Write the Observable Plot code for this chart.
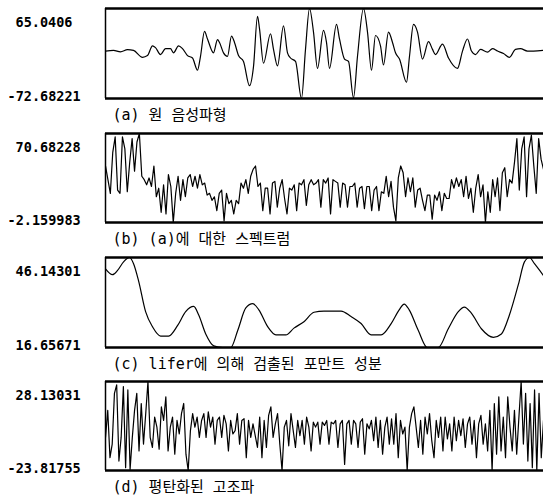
<!DOCTYPE html>
<html><head><meta charset="utf-8">
<script src="https://cdn.jsdelivr.net/npm/d3@7"></script>
<script src="https://cdn.jsdelivr.net/npm/@observablehq/plot@0.6"></script>
<style>
html,body{margin:0;padding:0;background:#fff;color:#000;}
#chart{width:543px;}
#chart svg{display:block;overflow:visible;}
g[aria-label="caption"] text{letter-spacing:1.5px;}
</style></head><body><div id="chart"></div>
<script>
// captions and min/max labels
const captions = ["(a) 원 음성파형", "(b) (a)에 대한 스펙트럼", "(c) lifer에 의해 검출된 포만트 성분", "(d) 평탄화된 고조파"];
const maxLabels = ["65.0406", "70.68228", "46.14301", "28.13031"];
const minLabels = ["-72.68221", "-2.159983", "16.65671", "-23.81755"];

// (a) original speech waveform: sample index / amplitude
const waveN = [0,8,15,22,28,37,42,47,50,55,60,65,68,73,77,82,87,92,95,99,102,108,112,114,118,122,126,129,133,138,144,148,152,154,158,165,168,172,178,182,185,190,196,200,204,208,212,218,221,224,231,234,239,243,248,252,258,262,266,270,275,278,283,287,290,294,301,304,308,312,317,323,327,330,337,343,352,357,362,366,370,375,382,387,392,398,404,410,415,422,428,438];
const waveV = [-0.1,0.9,-1.2,2.0,0.9,-9.6,-7.0,7.8,5.2,-5.4,3.6,3.6,-2.8,7.8,3.6,-7.0,-10.7,-29.3,-8.1,30.1,18.4,-2.8,17.4,13.1,-2.8,-8.1,22.7,13.1,-7.0,-16.0,-53.1,-23.9,52.9,34.3,-18.7,26.4,2.5,-22.9,38.6,-2.8,-10.7,-16.0,-72.68221,2.5,65.0406,29.0,-26.6,31.7,13.1,-26.6,40.7,18.4,-12.3,-16.0,-71.6,-8.1,65.0406,29.0,-29.3,23.7,7.8,-21.3,29.0,13.1,-2.8,-12.3,-47.8,-8.1,40.7,29.0,-12.3,14.2,2.5,-5.4,10.5,-10.7,-26.6,-0.1,18.4,-0.1,-5.4,2.5,-1.7,3.6,-0.1,-3.8,-9.6,2.5,3.6,-0.1,-0.1,0.9];

// (b) spectrum of (a)
const specV = [44.1,32.9,21.7,55.3,67.9,24.4,21.7,67.9,58.1,23.0,46.9,66.5,39.9,63.7,70.68228,35.7,32.9,28.7,34.3,27.3,44.1,18.9,25.9,6.2,28.7,4.8,37.1,27.3,-2.159983,21.7,35.7,16.0,32.9,18.9,34.3,37.1,27.3,35.7,25.9,37.1,28.7,30.1,20.3,21.7,16.0,18.9,7.6,21.7,24.4,-0.8,21.7,13.2,16.0,4.8,16.0,13.2,30.1,25.9,32.9,21.7,35.7,41.3,44.1,27.3,30.1,7.6,25.9,25.9,4.8,30.1,31.5,10.4,25.9,32.9,17.5,4.8,25.9,24.4,28.7,7.6,30.1,28.7,32.9,11.9,28.7,32.9,28.7,30.1,32.9,10.4,32.9,30.1,34.3,4.8,32.9,31.5,30.1,10.4,30.1,28.7,10.4,27.3,27.3,30.1,10.4,25.9,27.3,9.1,27.3,27.3,7.6,24.4,27.3,7.6,23.0,21.7,35.7,18.9,31.5,10.4,-0.8,34.3,44.1,38.5,18.9,34.3,23.0,34.3,10.4,24.4,25.9,16.0,7.6,20.3,20.3,0.6,20.3,16.0,23.0,7.6,21.7,17.5,17.5,32.9,25.9,34.3,27.3,32.9,18.9,35.7,17.5,25.9,6.2,25.9,37.1,18.9,28.7,-2.159983,23.0,6.2,32.9,18.9,34.3,7.6,38.5,42.7,18.9,32.9,30.1,46.9,66.5,24.4,58.1,67.9,18.9,58.1,69.3,44.1,21.7,66.5,49.7,41.3];

// (c) formant component detected by lifter
const formantN = [0,7,12,18,24,28,33,40,47,55,63,72,80,88,93,100,108,117,125,132,140,147,153,162,170,180,188,198,208,218,235,245,255,265,275,285,293,298,303,312,321,332,342,352,358,365,375,387,395,403,412,418,423,428,437];
const formantV = [42.4,40.5,41.9,44.7,46.14301,44.1,38.5,28.4,23.4,20.4,20.4,23.9,28.4,30.1,27.3,21.1,17.2,16.65671,16.65671,22.3,29.6,31.0,29.0,23.4,20.8,20.8,23.0,25.1,28.2,28.6,28.6,26.8,24.5,20.8,20.8,24.5,29.0,30.9,29.0,22.3,16.65671,16.65671,22.8,28.4,29.9,27.9,22.8,20.0,21.1,27.3,37.4,44.7,46.14301,44.1,40.2];

// (d) flattened harmonics
const harmV = [-4.5,11.3,-16.3,-8.4,21.2,26.2,-18.3,-4.5,25.2,-22.2,23.2,-23.2,-4.5,11.3,21.2,-12.4,15.3,-8.4,9.4,28.13031,-4.5,-10.4,7.4,1.5,-11.4,13.3,5.4,19.2,-12.4,1.5,7.4,-14.3,5.4,-2.5,9.4,15.3,-14.3,-23.81755,-0.5,9.4,1.5,7.4,-4.5,5.4,9.4,-4.5,10.4,1.5,7.4,-8.4,5.4,7.4,-4.5,8.4,3.4,-12.4,5.4,-2.5,-0.5,9.4,-8.4,5.4,6.4,-16.3,5.4,-4.5,3.4,-3.5,-10.4,7.4,-16.3,5.4,-10.4,8.4,13.3,-4.5,3.4,9.4,-8.4,-23.81755,1.5,5.4,-9.4,9.4,-0.5,-10.4,5.4,-3.5,5.4,-8.4,7.4,1.5,-12.4,4.4,1.5,4.4,-8.4,4.4,2.5,5.4,-8.4,4.4,3.4,5.4,-10.4,3.4,5.4,-20.3,3.4,5.4,-8.4,5.4,3.4,-10.4,4.4,6.4,-14.3,3.4,0.5,5.4,-6.4,7.4,-10.4,5.4,-14.3,1.5,7.4,-8.4,6.4,-8.4,9.4,-16.3,5.4,-2.5,1.5,-23.81755,1.5,9.4,13.3,1.5,-10.4,5.4,-14.3,7.4,-2.5,9.4,-6.4,-16.3,5.4,-4.5,7.4,-12.4,7.4,-5.4,3.4,-12.4,7.4,-6.4,5.4,-3.5,6.4,-10.4,3.4,7.4,-8.4,5.4,-16.3,3.4,8.4,-8.4,3.4,-12.4,11.3,-23.81755,15.3,-14.3,19.2,-12.4,7.4,-16.3,19.2,1.5,-12.4,11.3,-14.3,7.4,28.13031,-8.4,21.2,-18.3,15.3,-22.2,23.2,-23.81755,21.2,-16.3,5.4];

const LABEL_FONT = '"DejaVu Sans Mono", monospace';
const CAP_FONT = '"DejaVu Sans Mono", "Noto Sans CJK KR", monospace';

function panel(i, xs, ys, curve, h, mt, mb) {
  const ymin = +minLabels[i], ymax = +maxLabels[i];
  const data = ys.map((v, k) => ({x: xs ? xs[k] : k, y: v}));
  const x0 = xs ? xs[0] : 0, x1 = xs ? xs[xs.length - 1] : ys.length - 1;
  const dxFor = s => s.startsWith("-") ? -98 : -90;
  return Plot.plot({
    width: 543, height: h,
    marginLeft: 105, marginRight: 0, marginTop: mt, marginBottom: mb,
    x: {domain: [x0, x1], axis: null},
    y: {domain: [ymin, ymax], axis: null},
    marks: [
      Plot.line(data, {x: "x", y: "y", stroke: "#000", strokeWidth: 1.2, curve, clip: true}),
      Plot.ruleY([ymin, ymax], {stroke: "#000", strokeWidth: 2.5}),
      Plot.ruleX([x0], {stroke: "#000", strokeWidth: 1.5}),
      Plot.text([{t: maxLabels[i], v: ymax}], {y: "v", text: "t", frameAnchor: "left", textAnchor: "start",
        dx: dxFor(maxLabels[i]), dy: 14, fontFamily: LABEL_FONT, fontWeight: "bold", fontSize: 13.5, fill: "#000"}),
      Plot.text([{t: minLabels[i], v: ymin}], {y: "v", text: "t", frameAnchor: "left", textAnchor: "start",
        dx: dxFor(minLabels[i]), dy: -2, fontFamily: LABEL_FONT, fontWeight: "bold", fontSize: 13.5, fill: "#000"}),
      Plot.text([captions[i]], {text: d => d, frameAnchor: "bottom-left", textAnchor: "start", lineAnchor: "middle",
        dx: 7, dy: 17, fontFamily: CAP_FONT, fontSize: 15, fill: "#000", ariaLabel: "caption"})
    ]
  });
}

const root = document.getElementById("chart");
root.append(panel(0, waveN, waveV, "monotone-x", 125, 8, 27));
root.append(panel(1, null, specV, "linear", 125, 8, 28));
root.append(panel(2, formantN, formantV, "monotone-x", 125, 7, 28));
root.append(panel(3, null, harmV, "linear", 123, 6, 28));
</script></body></html>
